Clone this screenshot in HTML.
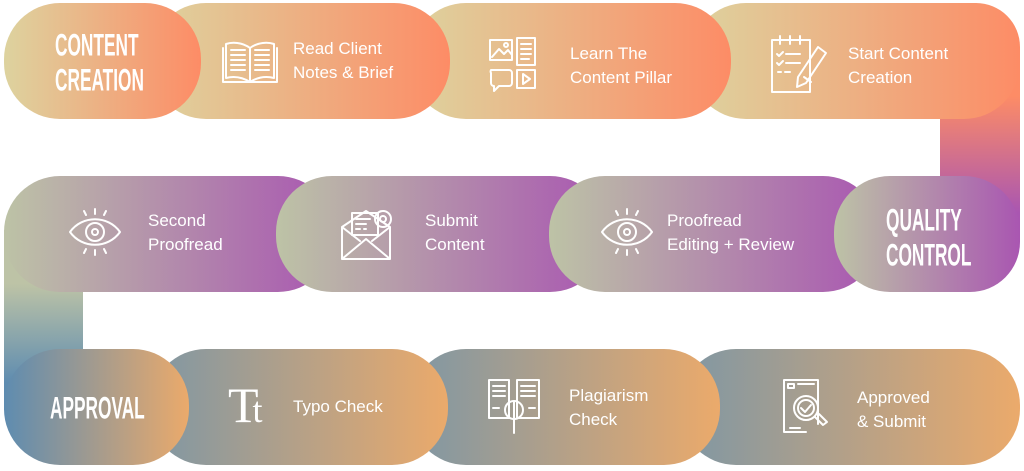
<!DOCTYPE html>
<html><head><meta charset="utf-8"><style>
html,body{margin:0;padding:0;background:#fff;}
#c{position:relative;width:1024px;height:471px;overflow:hidden;font-family:"Liberation Sans",sans-serif;}
.p{position:absolute;border-radius:56px;}
.r1{top:3px;height:116px;background:linear-gradient(90deg,#ddd39f,#fd8c66);}
.r2{top:176px;height:116px;background:linear-gradient(90deg,#bdc3a6,#a956b1);}
.r3{top:349px;height:116px;background:linear-gradient(90deg,#7f97a4,#ebaa6b);}
.t{position:absolute;color:#fff;font-size:17px;line-height:24px;white-space:nowrap;}
.h{position:absolute;color:#fff;font-family:"Liberation Sans",sans-serif;font-weight:bold;font-size:27px;line-height:30px;transform:scale(0.64,1.18);transform-origin:left top;white-space:nowrap;}
svg{position:absolute;fill:none;stroke:#fff;stroke-width:2;stroke-linecap:round;stroke-linejoin:round;}
</style></head><body><div id="c">
<div style="position:absolute;left:940px;top:60px;width:80px;height:180px;background:linear-gradient(180deg,#fd8c66 20%,#a956b1 85%);"></div>
<div style="position:absolute;left:4px;top:230px;width:79px;height:180px;background:linear-gradient(180deg,#bdc3a6 30%,#5e8cb0 85%);"></div>
<div class="p r1" style="left:690px;width:330px;border-radius:56px 44px 56px 56px;"></div>
<div class="p r1" style="left:410px;width:321px;"></div>
<div class="p r1" style="left:150px;width:300px;"></div>
<div class="p r1" style="left:4px;width:197px;"></div>
<div class="p r2" style="left:4px;width:330px;"></div>
<div class="p r2" style="left:276px;width:330px;"></div>
<div class="p r2" style="left:549px;width:330px;"></div>
<div class="p r2" style="left:834px;width:186px;border-radius:56px 56px 50px 56px;"></div>
<div class="p r3" style="left:680px;width:340px;"></div>
<div class="p r3" style="left:410px;width:310px;"></div>
<div class="p r3" style="left:150px;width:298px;"></div>
<div class="p r3" style="left:4px;width:185px;background:linear-gradient(90deg,#5e8cb0,#ebaa6b);"></div>

<div class="h" style="left:55px;top:27px;">CONTENT<br>CREATION</div>
<div class="h" style="left:886px;top:202px;">QUALITY<br>CONTROL</div>
<div class="h" style="left:50px;top:390px;">APPROVAL</div>

<div class="t" style="left:293px;top:37px;">Read Client<br>Notes &amp; Brief</div>
<div class="t" style="left:570px;top:42px;">Learn The<br>Content Pillar</div>
<div class="t" style="left:848px;top:42px;">Start Content<br>Creation</div>
<div class="t" style="left:148px;top:209px;">Second<br>Proofread</div>
<div class="t" style="left:425px;top:209px;">Submit<br>Content</div>
<div class="t" style="left:667px;top:209px;">Proofread<br>Editing + Review</div>
<div class="t" style="left:293px;top:395px;">Typo Check</div>
<div class="t" style="left:569px;top:384px;">Plagiarism<br>Check</div>
<div class="t" style="left:857px;top:386px;">Approved<br>&amp; Submit</div>

<svg style="left:222px;top:40px" width="56" height="44" viewBox="0 0 56 44"><path d="M28 8 C20 2 10 2 4 4 V38 C12 36 20 37 28 42 C36 37 44 36 52 38 V4 C46 2 36 2 28 8 Z M28 8 V42"/><path d="M1 8 V42 H55 V8"/><path d="M9 10h14M9 15h14M9 20h14M9 25h14M9 30h14M33 10h14M33 15h14M33 20h14M33 25h14M33 30h14"/></svg>
<svg style="left:488px;top:37px" width="58" height="58" viewBox="0 0 58 58"><rect x="2" y="3" width="22" height="20"/><path d="M4 20 l7-8 5 5 4-4 4 5"/><circle cx="18" cy="8" r="2"/><rect x="29" y="1" width="18" height="27"/><path d="M33 7h10M33 12h10M33 17h10M33 22h8"/><path d="M3 33 h18 a3 3 0 0 1 3 3 v10 a3 3 0 0 1-3 3 h-10 l-5 5 v-5 a3 3 0 0 1-3-3 v-10 a3 3 0 0 1 0-3z"/><rect x="29" y="33" width="18" height="18"/><path d="M35 37 l7 5 -7 5 z"/></svg>
<svg style="left:770px;top:35px" width="60" height="60" viewBox="0 0 60 60"><rect x="2" y="5" width="38" height="52"/><path d="M10 1v8M20 1v8M30 1v8"/><path d="M7 19l2 2 4-4M16 19h14M7 28l2 2 4-4M16 28h14M8 37h3M15 37h5"/><path d="M48 12l8 6-20 30-9 4 1-10z M34 42l7 5"/></svg>
<svg style="left:68px;top:207px" width="54" height="50" viewBox="0 0 54 50"><path d="M2 25 C14 8 40 8 52 25 C40 42 14 42 2 25Z"/><circle cx="27" cy="25" r="9"/><circle cx="27" cy="25" r="3"/><path d="M27 2v5M16 4l2 4M38 4l-2 4M27 43v5M16 46l2-4M38 46l-2-4"/></svg>
<svg style="left:340px;top:205px" width="58" height="56" viewBox="0 0 58 56"><path d="M2 22 V54 H50 V22 L26 6 Z M2 54 L26 34 L50 54 M2 22 L20 36 M50 22 L32 36"/><rect x="12" y="8" width="26" height="22"/><path d="M16 14h14M16 19h10M16 24h4M24 24h2"/><circle cx="43" cy="14" r="8"/><circle cx="43" cy="14" r="3"/></svg>
<svg style="left:600px;top:207px" width="54" height="50" viewBox="0 0 54 50"><path d="M2 25 C14 8 40 8 52 25 C40 42 14 42 2 25Z"/><circle cx="27" cy="25" r="9"/><circle cx="27" cy="25" r="3"/><path d="M27 2v5M16 4l2 4M38 4l-2 4M27 43v5M16 46l2-4M38 46l-2-4"/></svg>
<div style="position:absolute;left:228px;top:380px;color:#fff;font-family:'Liberation Serif',serif;font-size:50px;line-height:50px;letter-spacing:-6px;">T<span style="font-size:36px">t</span></div>
<svg style="left:487px;top:378px" width="56" height="58" viewBox="0 0 56 58"><path d="M2 2h20v38H2zM30 2h22v38H30z"/><path d="M6 8h12M6 13h12M6 18h12M34 8h14M34 13h14M34 18h14M6 30h6M42 30h6"/><circle cx="27" cy="32" r="9"/><path d="M27 23v18M27 41v14"/></svg>
<svg style="left:782px;top:378px" width="54" height="60" viewBox="0 0 54 60"><path d="M2 2h34v44 M2 2v52 h22"/><path d="M6 6h6v4H6zM16 6h16"/><circle cx="24" cy="30" r="12"/><circle cx="24" cy="30" r="8"/><path d="M19 30l4 4 6-7M33 39l8 8 4-3-8-8M8 50h10"/></svg>
</div></body></html>
